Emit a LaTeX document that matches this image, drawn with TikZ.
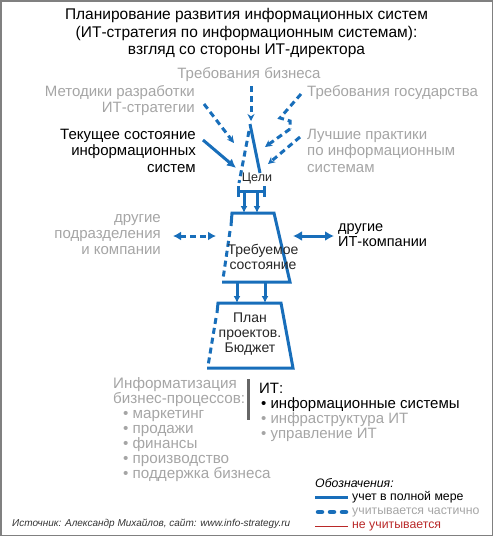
\documentclass[tikz,border=0pt]{standalone}
\usepackage{fontspec}
\setmainfont{Liberation Sans}
\usetikzlibrary{arrows.meta}

\definecolor{itblue}{RGB}{24,110,186}
\definecolor{softgray}{RGB}{165,165,165}
\definecolor{framegray}{RGB}{128,128,128}
\definecolor{notred}{RGB}{185,40,40}

\tikzset{
  fullline/.style={draw=itblue, line width=3pt},
  partline/.style={draw=itblue, line width=3pt, dash pattern=on 6pt off 4pt},
  fulltip/.style={-{Latex[length=9pt,width=9pt]}},
  smalltip/.style={-{Latex[length=7pt,width=7pt]}},
  parttip/.style={-{Stealth[length=7pt,width=7pt]}},
  graylabel/.style={text=softgray, font=\fontsize{15}{16}\selectfont, inner sep=0pt},
  blacklabel/.style={text=black, font=\fontsize{15}{16.5}\selectfont, inner sep=0pt},
  boxlabel/.style={text=black!85, font=\fontsize{14}{15}\selectfont, align=center, inner sep=0pt},
  legendlabel/.style={font=\fontsize{12.3}{13}\selectfont, inner sep=0pt, anchor=west},
}

\begin{document}
\begin{tikzpicture}[x=1pt,y=-1pt]
  \useasboundingbox (0,0) rectangle (493,536);
  % Frame
  \draw[framegray, line width=1.5pt] (0.75,0.75) rectangle (492.25,535.25);

  % Title
  \node[align=center, font=\fontsize{15.5}{17.5}\selectfont, inner sep=0pt] (title) at (246.5,33)
    {Планирование развития информационных систем\\(ИТ-стратегия по информационным системам):\\взгляд со стороны ИТ-директора};

  % Inputs
  \node[graylabel] (business) at (249,75) {Требования бизнеса};
  \node[graylabel, anchor=east, align=right] (methods) at (195,101) {Методики разработки\\ИТ-стратегии};
  \node[graylabel, anchor=west] (state) at (307,93) {Требования государства};
  \node[blacklabel, anchor=east, align=right] (current) at (196,150.5) {Текущее состояние\\информационных\\систем};
  \node[graylabel, anchor=west, align=left, font=\fontsize{15}{16.5}\selectfont] (practice) at (307,150.5) {Лучшие практики\\по информационным\\системам};

  % Goals funnel
  \coordinate (gtop) at (250,124);
  \coordinate (gleft) at (249,131);
  \coordinate (gright) at (260,173);
  \coordinate (gbottom) at (239,183);
  \node[boxlabel, font=\fontsize{12.5}{14}\selectfont] (goals) at (257,178) {Цели};
  \draw[fullline] (gtop) -- (gright);
  \draw[partline] (gleft) -- (gbottom);
  \draw[fullline] (238,186) -- (238,197);
  \draw[fullline] (264,186) -- (264,197);
  \draw[fullline] (238,191) -- (264,191);

  % Arrows into goals
  \coordinate (bizin) at (251,121);
  \draw[partline, parttip] (business.south -| bizin) ++(0,4) -- (bizin);
  \coordinate (m0) at (204,104);
  \coordinate (m1) at (234,143);
  \draw[partline, parttip] (m0) -- (m1);
  \coordinate (c0) at (203,140);
  \coordinate (c1) at (236,168);
  \draw[fullline, fulltip] (c0) -- (c1);
  \coordinate (s0) at (301,94);
  \coordinate (s1) at (280,118);
  \coordinate (s2) at (290,121);
  \coordinate (s3) at (290,129);
  \coordinate (s4) at (265,147);
  \draw[partline] (s0) -- (s1) -- (s2) -- (s3);
  \draw[partline, parttip] (s3) -- (s4);
  \coordinate (p0) at (300,137);
  \coordinate (p1) at (268,164);
  \draw[partline, parttip] (p0) -- (p1);

  % Required state
  \coordinate (rtl) at (232,213);
  \coordinate (rtr) at (274,213);
  \coordinate (rbr) at (290,282);
  \coordinate (rbl) at (222,282);
  \draw[fullline, smalltip] (244,191) -- (244,213);
  \draw[fullline, smalltip] (257,191) -- (257,213);
  \draw[fullline] (231,226) -- (rtl) -- (rtr) -- (rbr) -- (rbl);
  \draw[partline] (230,231) -- (223,279);
  \node[boxlabel] (required) at (263,257) {Требуемое\\состояние};

  % Neighbours
  \node[graylabel, anchor=east, align=right] (units) at (161,235) {другие\\подразделения\\и компании};
  \node[blacklabel, anchor=west, align=left, font=\fontsize{14.5}{15}\selectfont] (itcos) at (338,235) {другие\\ИТ-компании};
  \draw[partline, {Latex[length=8pt,width=9pt]}-{Latex[length=8pt,width=9pt]}] (173,236) -- (216,236);
  \draw[fullline, {Latex[length=9pt,width=10pt]}-{Latex[length=9pt,width=10pt]}] (293,236) -- (334,236);

  % Plan and budget
  \coordinate (ptl) at (218,303);
  \coordinate (ptr) at (281,303);
  \coordinate (pbr) at (293,368);
  \coordinate (pbl) at (207,368);
  \draw[fullline, smalltip] (237,282) -- (237,303);
  \draw[fullline, smalltip] (265,282) -- (265,303);
  \draw[fullline] (217,313) -- (ptl) -- (ptr) -- (pbr) -- (pbl);
  \draw[partline] (216,318) -- (208,366);
  \node[boxlabel] (plan) at (250,334) {План\\проектов.\\Бюджет};

  % Business processes
  \node[graylabel, anchor=north west, align=left, font=\fontsize{15.2}{15}\selectfont] (processes) at (113,377)
    {Информатизация\\бизнес-процессов:\\\hspace*{10pt}• маркетинг\\\hspace*{10pt}• продажи\\\hspace*{10pt}• финансы\\\hspace*{10pt}• производство\\\hspace*{10pt}• поддержка бизнеса};
  \draw[black!60, line width=3pt] (248,379) -- (248,420);
  \node[blacklabel, anchor=north west, align=left, font=\fontsize{15}{15}\selectfont] (itparts) at (259,383)
    {ИТ:\\\hspace*{2pt}• информационные системы\\\hspace*{2pt}{\color{softgray}• инфраструктура ИТ}\\\hspace*{2pt}{\color{softgray}• управление ИТ}};

  % Legend
  \node[legendlabel, font=\fontsize{12.3}{13}\itshape] (legend) at (315,483) {Обозначения:};
  \coordinate (l1) at (315,497);
  \coordinate (l2) at (318,512);
  \coordinate (l3) at (315,526);
  \draw[fullline] (l1) -- ++(33,0);
  \node[legendlabel, text=black] (lfull) at (352,497) {учет в полной мере};
  \draw[itblue, line width=4.5pt, line cap=round, dash pattern=on 4pt off 8pt] (l2) -- ++(28,0);
  \node[legendlabel, text=softgray] (lpart) at (352,512) {учитывается частично};
  \draw[notred, line width=1pt] (l3) -- ++(33,0);
  \node[legendlabel, text=notred] (lnone) at (352,526) {не учитывается};

  % Source
  \node[anchor=west, inner sep=0pt, font=\fontsize{10}{12}\itshape, text=black!80] (source) at (12,524)
    {Источник: Александр Михайлов, сайт: www.info-strategy.ru};
\end{tikzpicture}
\end{document}
